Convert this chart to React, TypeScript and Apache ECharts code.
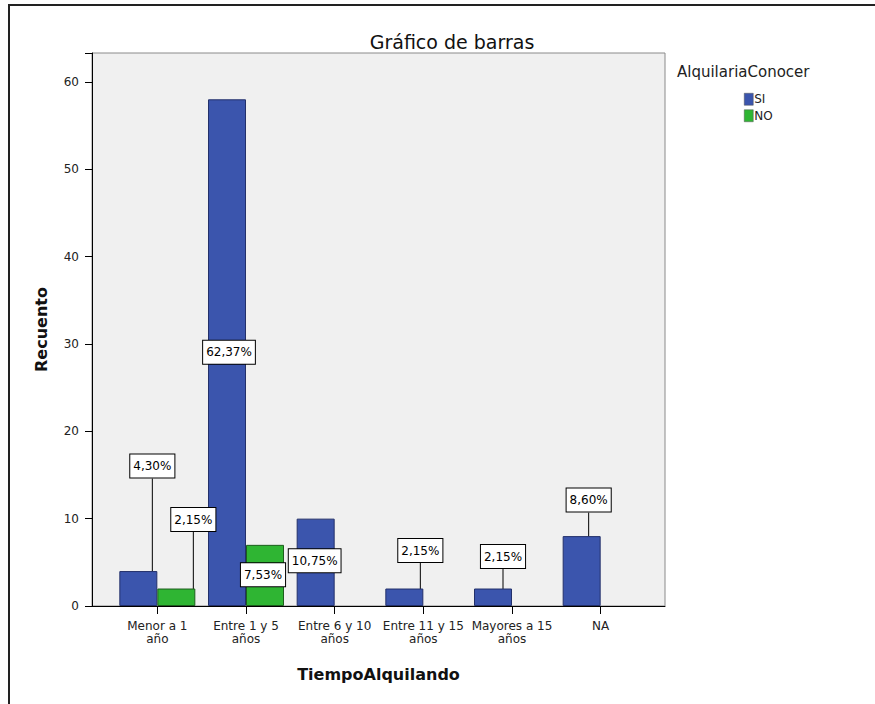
import React, { useEffect, useRef } from "react";
import * as echarts from "echarts";

const categories = [
  "Menor a 1 año",
  "Entre 1 y 5 años",
  "Entre 6 y 10 años",
  "Entre 11 y 15 años",
  "Mayores a 15 años",
  "NA",
];
const siValues = [4, 58, 10, 2, 2, 8];
const noValues: (number | null)[] = [2, 7, null, null, null, null];
const seriesNames = ["SI", "NO"];
const yTicks = [0, 10, 20, 30, 40, 50, 60];
const legendTitle = "AlquilariaConocer";

// label placement (dx from bar centre, dy from bar top), styling only
const siLabelOffsets = [[14, -105], [2, 253], [-1, 42], [16, -38], [10, -32], [7, -36]];
const noLabelOffsets = [[17, -69], [-2, 30], [0, 0], [0, 0], [0, 0], [0, 0]];
const siLabelLine = [true, false, false, true, true, true];
const noLabelLine = [true, false, false, false, false, false];

const total = [...siValues, ...noValues].reduce((a: number, b) => a + (b ?? 0), 0);
const pct = (v: number) => ((v / total) * 100).toFixed(2).replace(".", ",") + "%";

export default function App() {
  const ref = useRef<HTMLDivElement>(null);
  useEffect(() => {
    document.body.style.margin = "0";
    const chart = echarts.init(ref.current!, undefined, { renderer: "svg" });
    const font = "'DejaVu Sans', Verdana, sans-serif";
    const labelBox = {
      show: true,
      position: "top",
      distance: 0,
      color: "#000",
      fontSize: 12,
      fontFamily: font,
      backgroundColor: "#fff",
      borderColor: "#000",
      borderWidth: 1,
      padding: [6, 3, 5, 3],
      formatter: (p: any) => pct(p.value),
    };
    const offsets = [siLabelOffsets, noLabelOffsets];
    chart.setOption({
      animation: false,
      textStyle: { fontFamily: font },
      title: {
        text: "Gráfico de barras",
        left: 447,
        top: 27,
        textAlign: "center",
        textStyle: { fontSize: 19, fontWeight: "normal", color: "#111", fontFamily: font },
      },
      legend: {
        left: 739,
        top: 88,
        orient: "vertical",
        itemWidth: 9,
        itemHeight: 12,
        itemGap: 4,
        icon: "rect",
        itemStyle: { borderColor: "#555", borderWidth: 0.5 },
        textStyle: { fontSize: 12, color: "#222", padding: [0, 0, 0, -4], fontFamily: font },
        data: seriesNames,
      },
      graphic: [
        {
          type: "text",
          left: 677,
          top: 64,
          style: { text: legendTitle, fill: "#222", font: `15px ${font}` },
        },
        {
          type: "rect",
          shape: { x: 9, y: 5, width: 1000, height: 1000 },
          style: { fill: "none", stroke: "#222", lineWidth: 2 },
          silent: true,
        },
      ],
      grid: [
        {
          left: 92,
          top: 53,
          width: 573,
          height: 553,
          show: true,
          backgroundColor: "#F0F0F0",
          borderColor: "#8a8a8a",
          borderWidth: 1,
        },
        { left: 113, top: 53, width: 532, height: 553 },
      ],
      xAxis: [
        {
          type: "value",
          gridIndex: 0,
          min: 0,
          max: 1,
          axisLine: { show: true, lineStyle: { color: "#000", width: 1 } },
          axisTick: { show: false },
          axisLabel: { show: false },
          splitLine: { show: false },
          name: "TiempoAlquilando",
          nameLocation: "middle",
          nameGap: 60,
          nameTextStyle: { fontSize: 16, fontWeight: "bold", color: "#111", fontFamily: font },
        },
        {
          type: "category",
          gridIndex: 1,
          data: categories,
          axisLine: { show: false },
          axisTick: { show: true, alignWithLabel: true, length: 8, lineStyle: { color: "#000" } },
          axisLabel: {
            fontSize: 12,
            lineHeight: 13,
            color: "#222",
            margin: 13,
            interval: 0,
            fontFamily: font,
            formatter: (v: string) => {
              const i = v.lastIndexOf(" ");
              return i > 0 ? v.slice(0, i) + "\n" + v.slice(i + 1) : v;
            },
          },
        },
      ],
      yAxis: [
        {
          type: "value",
          gridIndex: 0,
          min: 0,
          max: 63.3,
          interval: 10,
          axisLine: { show: true, lineStyle: { color: "#000", width: 1 } },
          axisTick: { show: true, length: 7, lineStyle: { color: "#000" } },
          axisLabel: {
            fontSize: 12,
            color: "#222",
            margin: 13,
            fontFamily: font,
            formatter: (v: number) => (yTicks.includes(v) ? String(v) : ""),
          },
          splitLine: { show: false },
          name: "Recuento",
          nameLocation: "middle",
          nameGap: 43,
          nameTextStyle: { fontSize: 16, fontWeight: "bold", color: "#111", fontFamily: font },
        },
        { type: "value", gridIndex: 1, min: 0, max: 63.3, show: false },
      ],
      series: [
        {
          name: seriesNames[0],
          type: "bar",
          xAxisIndex: 1,
          yAxisIndex: 1,
          barWidth: 38,
          barGap: "0%",
          itemStyle: { color: "#3B55AD", borderColor: "#23306a", borderWidth: 1 },
          label: labelBox,
          labelLine: { show: true, lineStyle: { color: "#000", width: 1 } },
          data: siValues.map((v, i) => ({ value: v, labelLine: { show: siLabelLine[i] } })),
        },
        {
          name: seriesNames[1],
          type: "bar",
          xAxisIndex: 1,
          yAxisIndex: 1,
          barWidth: 38,
          barGap: "0%",
          itemStyle: { color: "#2FB533", borderColor: "#1d5e1d", borderWidth: 1 },
          label: labelBox,
          labelLine: { show: true, lineStyle: { color: "#000", width: 1 } },
          data: noValues.map((v, i) => ({ value: v, labelLine: { show: noLabelLine[i] } })),
        },
      ],
      labelLayout: (p: any) => {
        const off = offsets[p.seriesIndex]?.[p.dataIndex] ?? [0, 0];
        return {
          x: p.rect.x + p.rect.width / 2 + off[0],
          y: p.rect.y + off[1],
          align: "center",
          verticalAlign: "middle",
        };
      },
    });
    return () => chart.dispose();
  }, []);
  return <div ref={ref} style={{ width: 875, height: 704, position: "absolute", left: 0, top: 0, background: "#fff" }} />;
}
